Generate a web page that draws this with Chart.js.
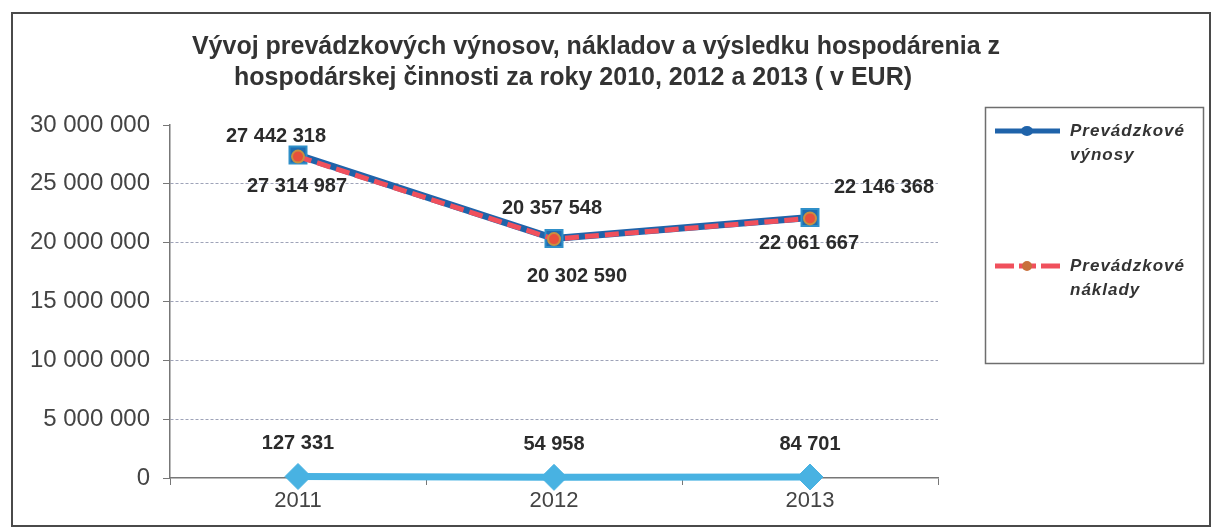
<!DOCTYPE html>
<html>
<head>
<meta charset="utf-8">
<script src="https://cdn.jsdelivr.net/npm/chart.js@4"></script>
<style>
  html, body { margin: 0; padding: 0; background: #fff; }
  #wrap { width: 1212px; height: 531px; position: relative; }
</style>
</head>
<body>
<div id="wrap"><canvas id="chart" width="1212" height="531"></canvas></div>
<script>
// data
const years = ['2011', '2012', '2013'];
const vynosy = [27442318, 20357548, 22146368];
const naklady = [27314987, 20302590, 22061667];
const vysledok = [127331, 54958, 84701];
const seriesNames = ['Prevádzkové výnosy', 'Prevádzkové náklady', 'Výsledok hospodárenia'];
const titleLines = [
  'Vývoj prevádzkových výnosov, nákladov a výsledku hospodárenia z',
  'hospodárskej činnosti za roky 2010, 2012 a 2013 ( v EUR)'
];

const fmt = (v) => String(v).replace(/\B(?=(\d{3})+(?!\d))/g, ' ');

const BLUE = '#1f63aa';
const RED = '#f0505c';
const LIGHT = '#48b2e2';
const FONT = '"Liberation Sans", Arial, sans-serif';

// frame + title
const framePlugin = {
  id: 'frame',
  beforeDraw: (chart) => {
    const { ctx } = chart;
    ctx.save();
    ctx.fillStyle = '#fff';
    ctx.fillRect(0, 0, chart.width, chart.height);
    ctx.strokeStyle = '#4a4a4a';
    ctx.lineWidth = 2;
    ctx.strokeRect(12, 13, 1198, 513);
    ctx.fillStyle = '#333';
    ctx.font = 'bold 25px ' + FONT;
    ctx.textAlign = 'center';
    ctx.textBaseline = 'middle';
    ctx.fillText(titleLines[0], 596, 47);
    ctx.fillText(titleLines[1], 573, 78);
    ctx.restore();
  },
};

// value labels next to the points
const labelOffsets = [
  [[-22, -19], [-2, -30], [74, -30]],
  [[-1, 30], [23, 37], [-1, 25]],
  [[0, -33], [0, -33], [0, -33]],
];
const valueLabels = {
  id: 'valueLabels',
  afterDatasetsDraw: (chart) => {
    const { ctx } = chart;
    ctx.save();
    ctx.fillStyle = '#2b2b2b';
    ctx.font = 'bold 20px ' + FONT;
    ctx.textAlign = 'center';
    ctx.textBaseline = 'middle';
    chart.data.datasets.forEach((ds, i) => {
      const meta = chart.getDatasetMeta(i);
      meta.data.forEach((pt, j) => {
        const [dx, dy] = labelOffsets[i][j];
        ctx.fillText(fmt(ds.data[j]), pt.x + dx, pt.y + dy);
      });
    });
    ctx.restore();
  },
};

// legend box on the right (only the first two series appear in it)
const legendBox = {
  id: 'legendBox',
  afterDraw: (chart) => {
    const { ctx } = chart;
    ctx.save();
    ctx.strokeStyle = '#6e6e6e';
    ctx.lineWidth = 1.5;
    ctx.strokeRect(985.5, 107.5, 218, 256);

    // výnosy
    ctx.strokeStyle = BLUE;
    ctx.lineWidth = 5;
    ctx.beginPath();
    ctx.moveTo(995, 131);
    ctx.lineTo(1060, 131);
    ctx.stroke();
    ctx.fillStyle = BLUE;
    ctx.beginPath();
    ctx.ellipse(1027, 131, 6, 5, 0, 0, Math.PI * 2);
    ctx.fill();

    // náklady
    ctx.strokeStyle = RED;
    ctx.beginPath();
    ctx.moveTo(995, 266);
    ctx.lineTo(1014, 266);
    ctx.moveTo(1041, 266);
    ctx.lineTo(1060, 266);
    ctx.moveTo(1019, 266);
    ctx.lineTo(1036, 266);
    ctx.stroke();
    ctx.fillStyle = '#c8703c';
    ctx.beginPath();
    ctx.arc(1027, 266, 5, 0, Math.PI * 2);
    ctx.fill();

    ctx.fillStyle = '#333';
    ctx.font = 'italic bold 17px ' + FONT;
    ctx.letterSpacing = '1px';
    ctx.textAlign = 'left';
    ctx.textBaseline = 'middle';
    const rows = [131, 266];
    rows.forEach((y, i) => {
      const words = seriesNames[i].split(' ');
      ctx.fillText(words[0], 1070, y);
      ctx.fillText(words[1], 1070, y + 24);
    });
    ctx.restore();
  },
};

const config = {
  type: 'line',
  data: {
    labels: years,
    datasets: [
      {
        label: seriesNames[0],
        data: vynosy,
        order: 2,
        clip: false,
        borderColor: BLUE,
        borderWidth: 7,
        pointStyle: 'rect',
        pointRadius: 12,
        pointBackgroundColor: '#1f6cb0',
        pointBorderColor: '#2f8fc8',
        pointBorderWidth: 2,
        tension: 0,
      },
      {
        label: seriesNames[1],
        data: naklady,
        order: 1,
        clip: false,
        borderColor: RED,
        borderWidth: 5,
        borderDash: [14, 6],
        pointStyle: 'circle',
        pointRadius: 6,
        pointBackgroundColor: '#e8503c',
        pointBorderColor: '#c89040',
        pointBorderWidth: 2,
        tension: 0,
      },
      {
        label: seriesNames[2],
        data: vysledok,
        order: 3,
        clip: false,
        borderColor: LIGHT,
        borderWidth: 7,
        pointStyle: 'rectRot',
        pointRadius: 13,
        pointBackgroundColor: LIGHT,
        pointBorderColor: LIGHT,
        pointBorderWidth: 1,
        tension: 0,
      },
    ],
  },
  plugins: [framePlugin, valueLabels, legendBox],
  options: {
    responsive: false,
    animation: false,
    layout: { padding: { top: 125, right: 274, bottom: 0, left: 0 } },
    plugins: {
      legend: { display: false },
      title: { display: false },
      tooltip: { enabled: false },
    },
    scales: {
      x: {
        offset: true,
        afterFit: (scale) => { scale.height = 53; },
        grid: {
          display: true,
          offset: true,
          drawOnChartArea: false,
          tickLength: 7,
          tickColor: '#777',
        },
        border: { color: '#777', width: 1.5 },
        ticks: {
          padding: 3,
          color: '#444',
          font: { family: FONT, size: 22 },
        },
      },
      y: {
        min: 0,
        max: 30000000,
        afterFit: (scale) => { scale.width = 170; },
        grid: {
          color: (ctx) => (ctx.tick && (ctx.tick.value === 0 || ctx.tick.value === 30000000) ? 'rgba(0,0,0,0)' : '#9ea3b8'),
          lineWidth: 1,
          tickLength: 7,
          tickColor: '#777',
        },
        border: { color: '#777', width: 1.5, dash: [3, 2] },
        ticks: {
          stepSize: 5000000,
          padding: 13,
          color: '#444',
          font: { family: FONT, size: 24 },
          callback: (v) => fmt(v),
        },
      },
    },
  },
};

new Chart(document.getElementById('chart'), config);
</script>
</body>
</html>
